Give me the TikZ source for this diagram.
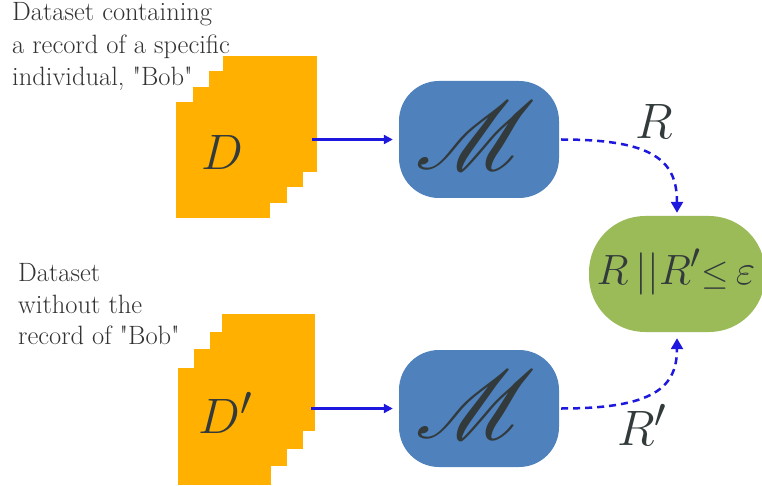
\documentclass[tikz,border=0pt]{standalone}
\usepackage{mathrsfs}
\usepackage{fontspec}
\usetikzlibrary{arrows.meta}
\definecolor{dsorange}{RGB}{255,176,0}
\definecolor{mblue}{RGB}{79,129,189}
\definecolor{rgreen}{RGB}{155,187,89}
\definecolor{arrblue}{RGB}{30,24,222}
\definecolor{txtgray}{RGB}{50,50,50}
\definecolor{mathgray}{RGB}{50,58,60}
\begin{document}
\begin{tikzpicture}[x=1pt,y=-1pt,
  layer/.style={fill=dsorange, draw=none, inner sep=0pt, minimum width=94pt, minimum height=116pt},
  mbox/.style={fill=mblue, draw=none, rounded corners=40pt, minimum width=160pt, minimum height=117pt, inner sep=0pt},
  gbox/.style={fill=rgreen, draw=none, rounded corners=56pt, minimum width=176pt, minimum height=116pt, inner sep=0pt},
  bigmath/.style={text=mathgray, font=\Huge, scale=2, inner sep=0pt},
  scriptm/.style={text=mathgray, font=\Huge, scale=3.9, inner sep=0pt},
  caption/.style={text=txtgray, font=\fontsize{26.5}{32.5}\selectfont, align=left, inner sep=0pt, anchor=north west},
  flow/.style={draw=arrblue, line width=2.2pt, -{Triangle[length=9pt,width=9pt]}},
  dflow/.style={draw=arrblue, line width=2.5pt, dash pattern=on 7pt off 5pt, -{Triangle[length=11pt,width=12pt]}}
]
\useasboundingbox (0,0) rectangle (762,486);

% upper stack D
\node[layer] (d4) at (269.5,114) {};
\node[layer] (d3) at (256,129) {};
\node[layer] (d2) at (240,145) {};
\node[layer] (d1) at (223,160) {};
\node[bigmath] (dl) at (222,152) {$D$};

% lower stack D'
\node[layer, minimum width=93pt, minimum height=117pt] (e4) at (268.5,372.5) {};
\node[layer, minimum width=93pt, minimum height=117pt] (e3) at (256.5,390) {};
\node[layer, minimum width=93pt, minimum height=117pt] (e2) at (240.5,407) {};
\node[layer, minimum width=93pt, minimum height=117pt] (e1) at (224.5,426.5) {};
\node[bigmath] (el) at (226,413) {$D'$};

% mechanisms
\node[mbox] (m1) at (479,139.5) {};
\node[scriptm] (m1l) at (476,136) {$\mathscr{M}$};
\node[mbox] (m2) at (479,408.5) {};
\node[scriptm] (m2l) at (476,405) {$\mathscr{M}$};

% comparison
\node[gbox] (g) at (677,274) {};
\node[bigmath, scale=0.85] (gl) at (676,272) {$R\,{|}{|}R'{\scriptstyle\leq}\,\varepsilon$};

% labels
\node[bigmath] (rl) at (654,122) {$R$};
\node[bigmath] (rpl) at (642,425) {$R'$};

\node[caption] (t1) at (12,2.5) {Dataset containing\\a record of a specific\\individual, \textquotedbl Bob\textquotedbl};
\node[caption, font=\fontsize{26.5}{31.2}\selectfont] (t2) at (18,263.5) {Dataset\\without the\\record of \textquotedbl Bob\textquotedbl};

% connectors
\draw[flow, shorten <=-5pt, shorten >=6pt] (d4.east |- m1.west) -- (m1.west);
\draw[flow, shorten <=-4pt, shorten >=6pt] (e4.east |- m2.west) -- (m2.west);
\draw[dflow, shorten <=2pt, shorten >=3pt] (m1.east) .. controls +(95,0) and +(0,-55) .. (g.north);
\draw[dflow, shorten <=2pt, shorten >=6pt] (m2.east) .. controls +(95,0) and +(0,55) .. (g.south);
\end{tikzpicture}
\end{document}
